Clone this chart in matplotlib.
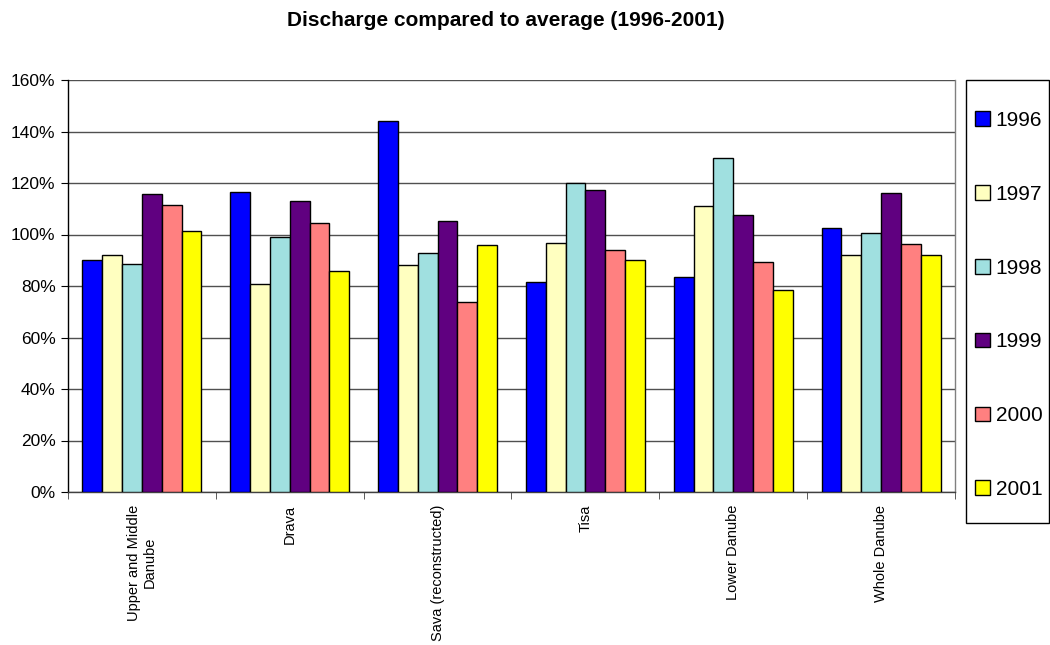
import matplotlib
matplotlib.use("Agg")
import matplotlib.pyplot as plt
import numpy as np
from matplotlib.patches import Patch, Rectangle
from matplotlib.ticker import FuncFormatter, MultipleLocator, FixedLocator

regions = ["Upper and Middle\nDanube", "Drava", "Sava (reconstructed)",
           "Tisa", "Lower Danube", "Whole Danube"]
years = ["1996", "1997", "1998", "1999", "2000", "2001"]

# discharge as percent of the long-term average, one list per year
v1996 = [90.2, 116.5, 144.0, 81.6, 83.5, 102.5]
v1997 = [92.0, 80.8, 88.0, 96.8, 111.2, 92.0]
v1998 = [88.6, 99.0, 92.9, 120.0, 129.7, 100.7]
v1999 = [115.6, 113.1, 105.4, 117.3, 107.4, 116.1]
v2000 = [111.5, 104.6, 73.7, 94.0, 89.4, 96.2]
v2001 = [101.5, 86.0, 96.0, 90.2, 78.6, 92.1]
series = [v1996, v1997, v1998, v1999, v2000, v2001]

colors = ["#0000FF", "#FFFFC0", "#A0E0E0", "#600080", "#FF8080", "#FFFF00"]
FONT = "Liberation Sans"

W, H = 1050, 645
fig = plt.figure(figsize=(W / 100, H / 100), dpi=100)
ax = fig.add_axes([68 / W, 1 - 492 / H, (955 - 68) / W, (492 - 80) / H])

n = len(series)
bw = 0.134
x = np.arange(len(regions))
for i, (vals, col) in enumerate(zip(series, colors)):
    ax.bar(x + (i - (n - 1) / 2) * bw, vals, width=bw, color=col,
           edgecolor="black", linewidth=1.0, zorder=3)

ax.set_xlim(-0.5, len(regions) - 0.5)
ax.set_ylim(0, 160)
ax.yaxis.set_major_locator(MultipleLocator(20))
ax.yaxis.set_major_formatter(FuncFormatter(lambda v, p: f"{v:.0f}%"))
ax.grid(axis="y", color="#505050", linewidth=1.0, zorder=0)
ax.set_axisbelow(True)

ax.set_xticks(x)
ax.set_xticklabels(regions, rotation=90, fontsize=10.5, va="top", ha="center",
                   family=FONT, multialignment="center")
ax.tick_params(axis="x", length=0, pad=9)
ax.xaxis.set_minor_locator(FixedLocator(np.arange(-0.5, len(regions), 1.0)))
ax.tick_params(axis="x", which="minor", length=5, direction="out", color="#404040")
ax.tick_params(axis="y", length=5, direction="out", labelsize=12.5, pad=4)
for lab in ax.get_yticklabels():
    lab.set_family(FONT)

ax.spines["top"].set_visible(False)
ax.spines["left"].set_color("black")
ax.spines["bottom"].set_color("#404040")
ax.spines["right"].set_color("#808080")
for s in ax.spines.values():
    s.set_linewidth(1.0)

fig.text(506 / W, 1 - 20 / H, "Discharge compared to average (1996-2001)",
         ha="center", va="center", fontsize=15, fontweight="bold", family=FONT)

# legend box
fig.patches.append(Rectangle((966 / W, 1 - 523 / H), (1049 - 966) / W, (523 - 80) / H,
                             transform=fig.transFigure, facecolor="white",
                             edgecolor="black", linewidth=1.0, zorder=1))

handles = [Patch(facecolor=c, edgecolor="black", linewidth=1.0) for c in colors]
leg = fig.legend(handles, years, loc="upper left",
                 bbox_to_anchor=(975 / W, 1 - 111 / H),
                 prop={"family": FONT, "size": 15},
                 frameon=False, labelspacing=2.63, handlelength=0.7,
                 handleheight=0.7, handletextpad=0.3, borderpad=0,
                 borderaxespad=0)
leg.set_zorder(2)

fig.savefig("out.png", dpi=100, facecolor="white")
